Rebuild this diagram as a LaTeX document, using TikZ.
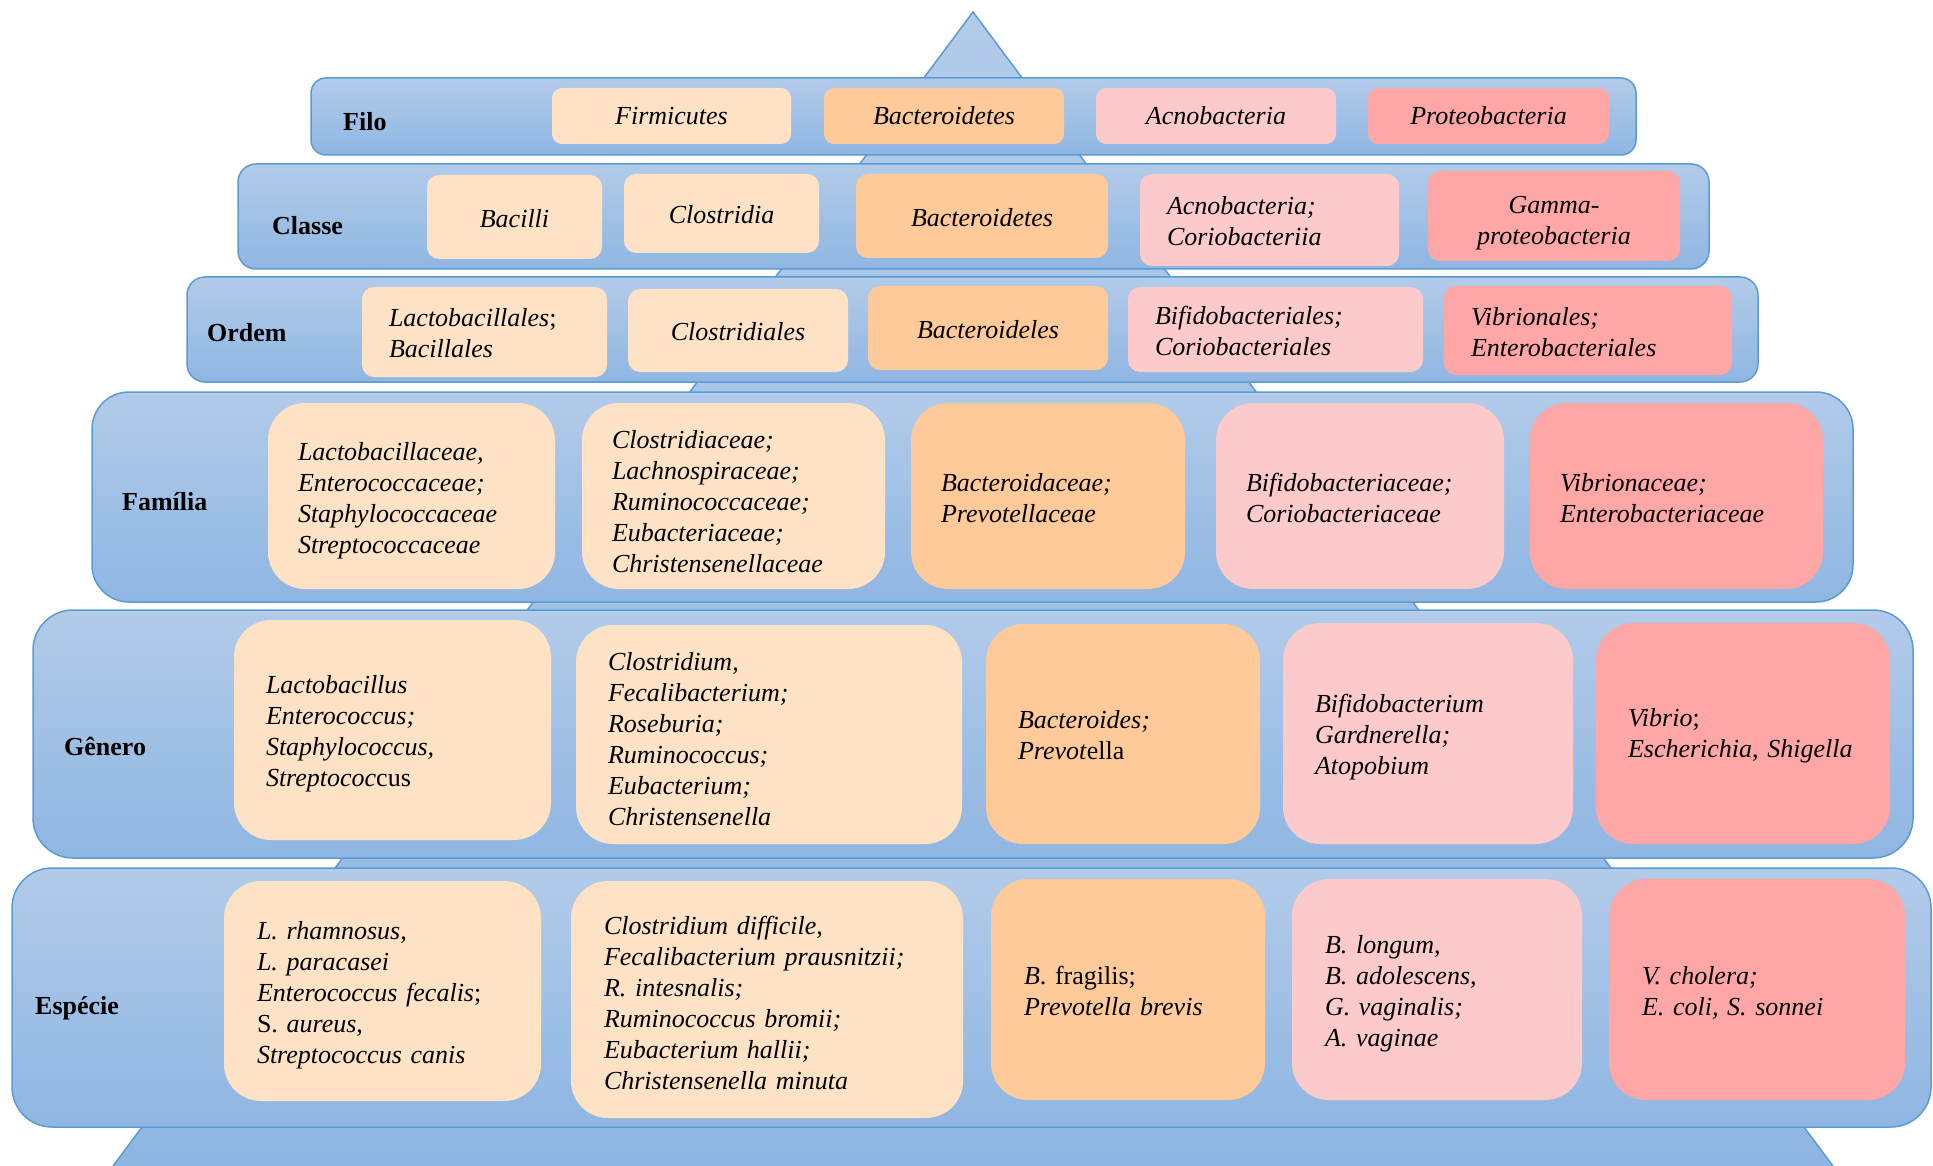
\documentclass[tikz,border=0pt]{standalone}
\usepackage{fontspec}
\setmainfont{Liberation Serif}
\definecolor{bandtop}{RGB}{178,203,233}
\definecolor{bandbot}{RGB}{143,182,226}
\definecolor{bandline}{RGB}{91,155,213}
\definecolor{firm}{RGB}{253,226,198}
\definecolor{bact}{RGB}{255,202,153}
\definecolor{acno}{RGB}{252,202,202}
\definecolor{prot}{RGB}{255,166,166}

\begin{document}
\begin{tikzpicture}[
  x=1pt, y=-1pt,
  band/.style={draw=bandline, line width=1.5pt, top color=bandtop, bottom color=bandbot, inner sep=0pt},
  taxon/.style={inner xsep=0pt, inner ysep=0pt, align=left, font=\fontsize{26}{31}\selectfont\itshape},
  rank/.style={anchor=west, inner sep=0pt, font=\fontsize{26}{31}\selectfont\bfseries},
  phy/.style={taxon, rounded corners=10pt, minimum height=56pt, align=center},
  cla/.style={taxon, rounded corners=12pt, execute at begin node={\rule{0pt}{#1}}},
  cla/.default=21pt,
  fam/.style={taxon, rounded corners=37pt, minimum height=186pt, execute at begin node={\rule{0pt}{#1}}},
  fam/.default=28pt,
  gen/.style={taxon, rounded corners=37pt, execute at begin node={\rule{0pt}{#1}}},
  gen/.default=27pt,
]
  \useasboundingbox (0,0) rectangle (1933,1166);

  \coordinate (apex)  at (973, 12);
  \coordinate (baseL) at (113, 1166);
  \coordinate (baseR) at (1833, 1166);
  \shade[top color=bandtop, bottom color=bandbot] (apex) -- (baseR) -- (baseL) -- cycle;
  \draw[bandline, line width=1.5pt] (baseL) -- (apex) -- (baseR);

  \node[band, rounded corners=15pt, minimum width=1325pt, minimum height=77pt]  (bPhy) at (973.5, 116.5) {};
  \node[band, rounded corners=18pt, minimum width=1471pt, minimum height=105pt] (bCla) at (973.5, 216.5) {};
  \node[band, rounded corners=18pt, minimum width=1571pt, minimum height=105pt] (bOrd) at (972.5, 329.5) {};
  \node[band, rounded corners=37pt, minimum width=1761pt, minimum height=210pt] (bFam) at (972.5, 497) {};
  \node[band, rounded corners=40pt, minimum width=1880pt, minimum height=248pt] (bGen) at (973, 734) {};
  \node[band, rounded corners=40pt, minimum width=1919pt, minimum height=259pt] (bEsp) at (971.5, 997.5) {};

  \node[rank] (lPhy) at (343, 122)  {Filo};
  \node[rank] (lCla) at (272, 226)  {Classe};
  \node[rank] (lOrd) at (207, 333)  {Ordem};
  \node[rank] (lFam) at (122, 502)  {Família};
  \node[rank] (lGen) at (64, 746)   {Gênero};
  \node[rank] (lEsp) at (35, 1008)  {Espécie};

  \node[phy, fill=firm, minimum width=239pt, text width=179pt] (phFirm) at (671.5, 116) {Firmicutes};
  \node[phy, fill=bact, minimum width=240pt, text width=180pt] (phBact) at (944, 116)   {Bacteroidetes};
  \node[phy, fill=acno, minimum width=240pt, text width=180pt] (phAcno) at (1216, 116)  {Acnobacteria};
  \node[phy, fill=prot, minimum width=241pt, text width=181pt] (phProt) at (1488.5, 116) {Proteobacteria};

  \node[cla, fill=firm, minimum width=175pt, minimum height=84pt, text width=121pt, align=center] (clBaci) at (514.5, 217)  {Bacilli};
  \node[cla, fill=firm, minimum width=195pt, minimum height=79pt, text width=141pt, align=center] (clClos) at (721.5, 213.5) {Clostridia};
  \node[cla, fill=bact, minimum width=252pt, minimum height=84pt, text width=198pt, align=center] (clBact) at (982, 216)    {Bacteroidetes};
  \node[cla, fill=acno, minimum width=259pt, minimum height=92pt, text width=205pt] (clAcno) at (1269.5, 220) {Acnobacteria;\\Coriobacteriia};
  \node[cla=32pt, fill=prot, minimum width=252pt, minimum height=90pt, text width=198pt, align=center] (clGamm) at (1554, 216) {Gamma-\\proteobacteria};

  \node[cla, fill=firm, minimum width=245pt, minimum height=90pt, text width=191pt] (orLact) at (484.5, 332)  {Lactobacillales\textup{;}\\Bacillales};
  \node[cla, fill=firm, minimum width=220pt, minimum height=83pt, text width=166pt, align=center] (orClos) at (738, 330.5) {Clostridiales};
  \node[cla, fill=bact, minimum width=240pt, minimum height=84pt, text width=186pt, align=center] (orBact) at (988, 328)   {Bacteroideles};
  \node[cla, fill=acno, minimum width=295pt, minimum height=85pt, text width=241pt] (orBifi) at (1275.5, 329.5) {Bifidobacteriales;\\Coriobacteriales};
  \node[cla, fill=prot, minimum width=288pt, minimum height=89pt, text width=234pt] (orVibr) at (1588, 330.5)   {Vibrionales;\\Enterobacteriales};

  \node[fam, fill=firm, minimum width=287pt, text width=227pt] (faLact) at (411.5, 496)  {Lactobacillaceae,\\Enterococcaceae;\\Staphylococcaceae\\Streptococcaceae};
  \node[fam=29pt, fill=firm, minimum width=303pt, text width=243pt] (faClos) at (733.5, 496)  {Clostridiaceae;\\Lachnospiraceae;\\Ruminococcaceae;\\Eubacteriaceae;\\Christensenellaceae};
  \node[fam=22pt, fill=bact, minimum width=274pt, text width=214pt] (faBact) at (1048, 496)   {Bacteroidaceae;\\Prevotellaceae};
  \node[fam=22pt, fill=acno, minimum width=288pt, text width=228pt] (faBifi) at (1360, 496)   {Bifidobacteriaceae;\\Coriobacteriaceae};
  \node[fam=22pt, fill=prot, minimum width=293pt, text width=233pt] (faVibr) at (1676.5, 496) {Vibrionaceae;\\Enterobacteriaceae};

  \node[gen=26pt, fill=firm, minimum width=317pt, minimum height=220pt, text width=253pt] (geLact) at (392.5, 730)  {Lactobacillus\\Enterococcus;\\Staphylococcus,\\Streptococ\textup{cus}};
  \node[gen=28pt, fill=firm, minimum width=386pt, minimum height=219pt, text width=322pt] (geClos) at (769, 734.5)  {Clostridium,\\Fecalibacterium;\\Roseburia;\\Ruminococcus;\\Eubacterium;\\Christensenella};
  \node[gen=21pt, fill=bact, minimum width=274pt, minimum height=220pt, text width=210pt] (geBact) at (1123, 734)   {Bacteroides;\\Prevot\textup{ella}};
  \node[gen=26pt, fill=acno, minimum width=290pt, minimum height=221pt, text width=226pt] (geBifi) at (1428, 733.5) {Bifidobacterium\\Gardnerella;\\Atopobium};
  \node[gen=23pt, fill=prot, minimum width=294pt, minimum height=221pt, text width=230pt] (geVibr) at (1743, 733.5) {Vibrio\textup{;}\\Escherichia\textup{,} Shigella};

  \node[gen, fill=firm, minimum width=317pt, minimum height=220pt, text width=251pt] (esLact) at (382.5, 991)  {L. rhamnosus,\\L. paracasei\\Enterococcus fecalis\textup{;}\\\textup{S.} aureus\textup{,}\\Streptococcus canis};
  \node[gen=25pt, fill=firm, minimum width=392pt, minimum height=237pt, text width=326pt] (esClos) at (767, 999.5)  {Clostridium difficile\textup{,}\\Fecalibacterium prausnitzii;\\R. intesnalis;\\Ruminococcus bromii;\\Eubacterium hallii;\\Christensenella minuta};
  \node[gen=22pt, fill=bact, minimum width=274pt, minimum height=221pt, text width=208pt] (esBact) at (1128, 989.5) {B\textup{. fragilis;}\\Prevotella brevis};
  \node[gen, fill=acno, minimum width=290pt, minimum height=221pt, text width=224pt] (esBifi) at (1437, 989.5) {B. longum,\\B. adolescens,\\G. vaginalis;\\A. vaginae};
  \node[gen=25pt, fill=prot, minimum width=296pt, minimum height=221pt, text width=230pt] (esVibr) at (1757, 989.5) {V. cholera;\\E. coli, S. sonnei};
\end{tikzpicture}
\end{document}
